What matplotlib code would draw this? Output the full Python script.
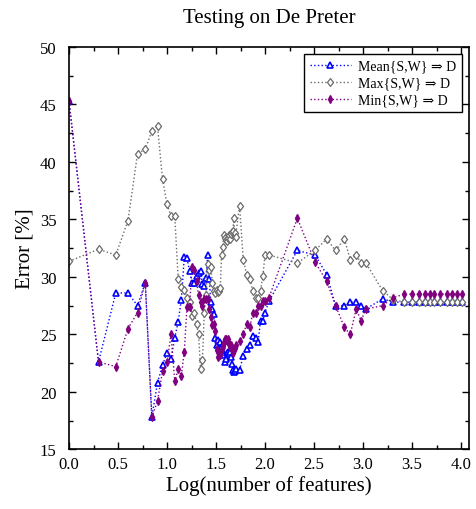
import matplotlib
matplotlib.use("Agg")
import matplotlib.pyplot as plt
from matplotlib.ticker import MultipleLocator
from matplotlib.legend_handler import HandlerLine2D

plt.rcParams['font.family'] = ['Liberation Serif', 'DejaVu Serif']

# Log(number of features)
log_features = [0.0, 0.301, 0.477, 0.602, 0.699, 0.778, 0.845, 0.903, 0.954, 1.0,
                1.041, 1.079, 1.114, 1.146, 1.176, 1.204, 1.230, 1.255, 1.279, 1.301,
                1.322, 1.342, 1.362, 1.380, 1.398, 1.415, 1.431, 1.447, 1.462, 1.477,
                1.491, 1.505, 1.519, 1.531, 1.544, 1.556, 1.568, 1.580, 1.591, 1.602,
                1.613, 1.623, 1.633, 1.643, 1.653, 1.663, 1.672, 1.681, 1.690, 1.699,
                1.740, 1.778, 1.813, 1.845, 1.875, 1.903, 1.929, 1.954, 1.978, 2.0,
                2.041,
                2.33, 2.51, 2.63, 2.72, 2.81, 2.87, 2.93, 2.98, 3.03, 3.20,
                3.31, 3.42, 3.50, 3.57, 3.63, 3.68, 3.72, 3.79, 3.86, 3.91,
                3.96, 4.01]

err_mean = [45.3, 22.6, 28.6, 28.6, 27.5, 29.5, 17.8, 20.8, 22.3, 23.4,
            22.9, 24.7, 26.1, 28.0, 31.7, 31.6, 30.5, 29.5, 29.5, 30.1,
            30.3, 30.5, 29.4, 29.2, 29.9, 31.9, 29.8, 27.8, 27.2, 26.8,
            24.7, 24.1, 24.5, 23.8, 24.3, 24.0, 23.5, 23.2, 22.6, 22.9,
            23.4, 23.5, 23.3, 23.5, 23.0, 22.4, 21.9, 21.7, 21.8, 22.0,
            21.9, 23.1, 23.7, 24.1, 24.9, 24.7, 24.3, 26.2, 26.2, 26.9,
            27.9,
            32.3, 31.9, 30.2, 27.5, 27.5, 27.8, 27.8, 27.5, 27.2, 28.1,
            27.8, 27.8, 27.8, 27.8, 27.8, 27.8, 27.8, 27.8, 27.8, 27.8,
            27.8, 27.8]

err_max = [31.35, 32.4, 31.9, 34.9, 40.7, 41.1, 42.7, 43.1, 38.5, 36.3,
           35.3, 35.3, 29.8, 29.1, 28.9, 28.2, 27.8, 26.6, 26.9, 25.9,
           25.0, 22.0, 22.8, 26.9, 28.4, 31.1, 30.6, 30.9, 29.5, 28.8,
           28.6, 28.9, 28.7, 28.8, 29.0, 31.9, 32.6, 33.6, 33.4, 33.2,
           33.1, 33.4, 33.6, 33.3, 33.7, 33.9, 34.0, 35.1, 33.8, 33.5,
           36.2, 31.5, 30.2, 29.8, 28.8, 28.2, 28.2, 28.8, 30.1, 31.9,
           31.9,
           31.2, 32.3, 33.3, 32.3, 33.3, 31.5, 31.9, 31.2, 31.2, 28.8,
           28.0, 27.8, 27.8, 27.8, 27.8, 27.8, 27.8, 27.8, 27.8, 27.8,
           27.8, 27.8]

err_min = [45.3, 22.6, 22.2, 25.5, 26.9, 29.5, 17.8, 19.2, 21.8, 22.6,
           25.0, 20.9, 22.0, 21.4, 23.5, 27.4, 27.4, 30.9, 30.6, 29.6,
           28.4, 27.8, 27.5, 28.1, 28.1, 28.1, 27.2, 26.5, 25.8, 25.9,
           25.3, 23.6, 23.0, 23.4, 23.2, 23.7, 24.0, 24.3, 24.6, 24.6,
           24.4, 24.6, 24.2, 23.9, 24.1, 23.6, 23.4, 23.6, 23.8, 24.1,
           24.4, 25.0, 25.9, 25.6, 26.9, 26.9, 27.5, 27.5, 27.9, 27.9,
           28.2,
           35.1, 31.3, 29.6, 27.5, 25.6, 25.0, 27.2, 26.2, 27.2, 27.5,
           28.2, 28.5, 28.5, 28.5, 28.5, 28.5, 28.5, 28.5, 28.5, 28.5,
           28.5, 28.5]


class MarkerLeft(HandlerLine2D):
    # marker at the left end of the legend line
    def get_xdata(self, legend, xdescent, ydescent, width, height, fontsize):
        xdata, _ = super().get_xdata(legend, xdescent, ydescent, width, height, fontsize)
        return xdata, [xdata[0]]


fig = plt.figure(figsize=(4.76, 5.10), dpi=100)
ax = fig.add_axes([0.145, 0.117, 0.840, 0.789])

ax.plot(log_features, err_mean, color='#0000ff', linestyle=':', linewidth=1.0,
        marker='^', markersize=4, markerfacecolor='white', markeredgecolor='#0000ff',
        markeredgewidth=1.2, label='Mean{S,W} ⇒ D')
ax.plot(log_features, err_max, color='#6b6b6b', linestyle=':', linewidth=1.0,
        marker='d', markersize=4.5, markerfacecolor='white', markeredgecolor='#6b6b6b',
        markeredgewidth=0.9, label='Max{S,W} ⇒ D')
ax.plot(log_features, err_min, color='#800080', linestyle=':', linewidth=1.0,
        marker='d', markersize=4, markerfacecolor='#800080', markeredgecolor='#800080',
        label='Min{S,W} ⇒ D')

ax.set_xlim(0, 4.08)
ax.set_ylim(15, 50)
ax.xaxis.set_major_locator(MultipleLocator(0.5))
ax.xaxis.set_minor_locator(MultipleLocator(0.25))
ax.yaxis.set_major_locator(MultipleLocator(5))
ax.yaxis.set_minor_locator(MultipleLocator(2.5))
ax.set_xticklabels([f"{v:.1f}" for v in ax.get_xticks()])
ax.tick_params(which='both', direction='in', top=True, right=True, labelsize=12)
ax.tick_params(axis='x', pad=5)
ax.tick_params(axis='y', pad=9)
ax.tick_params(which='major', length=5, width=1)
ax.tick_params(which='minor', length=3, width=1)
for s in ax.spines.values():
    s.set_linewidth(1.2)

ax.set_xlabel("Log(number of features)", fontsize=15, labelpad=2)
ax.set_ylabel("Error [%]", fontsize=15, labelpad=4)
ax.set_title("Testing on De Preter", fontsize=15, pad=18)

leg = ax.legend(loc='upper right', fontsize=10, frameon=True, fancybox=False,
                edgecolor='black', framealpha=1, handlelength=3.0, numpoints=1,
                borderpad=0.4, labelspacing=0.3, handletextpad=0.5,
                borderaxespad=0.5, handler_map={plt.Line2D: MarkerLeft()})
leg.get_frame().set_linewidth(1.0)

fig.savefig("out.png", dpi=100)
